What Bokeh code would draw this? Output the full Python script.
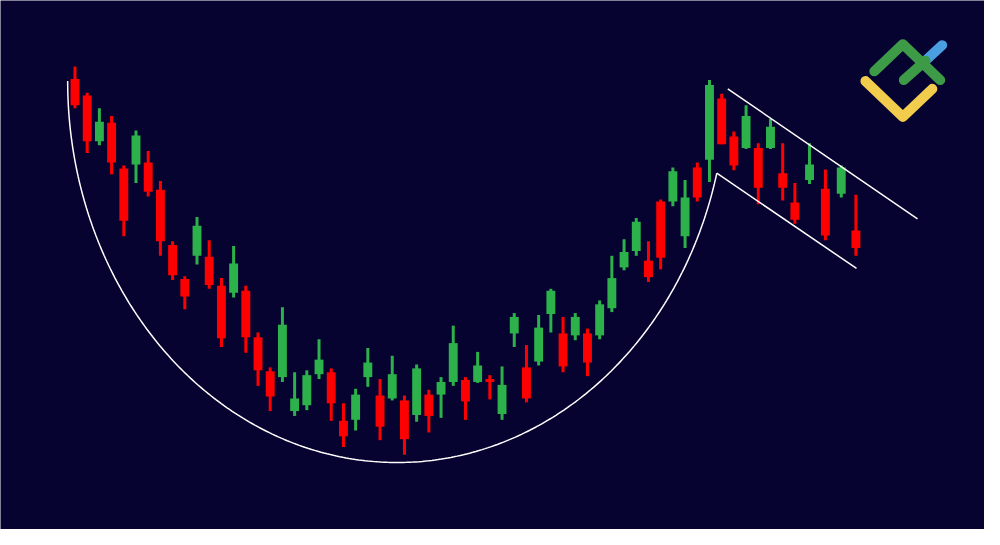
import numpy as np
from bokeh.plotting import figure
from bokeh.models import ColumnDataSource, Range1d
from bokeh.embed import file_html
from bokeh.resources import INLINE

# ---- candle data (bar position, OHLC in arbitrary price units) ----
pos = list(range(1, 61)) + [61.2, 62.5, 63.8, 65.0]
open_ = [464, 447, 400, 419, 372, 376, 378, 350, 293, 258,
         282, 281, 251, 244, 246, 198, 163, 157, 122, 128,
         160, 162, 112, 113, 157, 138, 135, 133, 118, 139,
         139, 152, 154, 152, 155, 119, 202, 167, 173, 222,
         202, 200, 202, 200, 228, 270, 287, 277, 338, 338,
         302, 373, 381, 444, 405, 393, 393, 393, 367, 337,
         360, 351, 346, 308]
close = [437, 400, 420, 378, 318, 406, 348, 297, 262, 240,
         313, 252, 197, 274, 198, 164, 137, 211, 135, 159,
         175, 130, 96, 139, 172, 106, 160, 93, 166, 117,
         152, 192, 132, 169, 152, 149, 219, 135, 208, 246,
         168, 219, 172, 232, 259, 286, 317, 260, 280, 369,
         342, 342, 458, 397, 375, 426, 352, 415, 352, 319,
         376, 303, 373, 290]
high = [477, 450, 434, 426, 375, 411, 390, 359, 297, 261,
        322, 298, 259, 292, 251, 203, 167, 229, 162, 164,
        196, 166, 130, 145, 187, 155, 179, 138, 170, 144,
        157, 210, 157, 183, 159, 168, 223, 190, 221, 248,
        219, 223, 207, 236, 282, 299, 321, 297, 340, 373,
        360, 378, 463, 449, 410, 437, 398, 423, 398, 357,
        398, 371, 375, 345]
low = [434, 388, 396, 366, 302, 357, 343, 282, 257, 227,
       273, 248, 188, 239, 182, 148, 122, 152, 117, 123,
       155, 112, 85, 102, 147, 92, 133, 77, 111, 100,
       115, 148, 113, 151, 134, 113, 188, 131, 169, 203,
       162, 195, 158, 196, 224, 267, 282, 255, 268, 333,
       290, 338, 358, 397, 370, 392, 335, 392, 339, 315,
       356, 298, 342, 282]

# ---- pattern annotation parameters (data units) ----
cup_center_x = 27.4
cup_half_width = 27.0
cup_rim = 462
cup_depth = 393
cup_end_angle = 0.244
channel_upper = ([54.5, 70.05], [454, 320])
channel_lower_end = (65.05, 269)

BG = "#060330"
RED = "#FF0000"
GREEN = "#2DB24B"

X0, X1 = -5.105, 75.54

p = figure(width=984, height=529, output_backend="svg", toolbar_location=None,
           x_range=Range1d(X0, X1), y_range=Range1d(0, 545),
           background_fill_color=BG, border_fill_color=BG,
           min_border=0, outline_line_color=None)
p.axis.visible = False
p.grid.visible = False

colors = [GREEN if c >= o else RED for o, c in zip(open_, close)]
src = ColumnDataSource(dict(
    x=pos, top=[max(o, c) for o, c in zip(open_, close)],
    bottom=[min(o, c) for o, c in zip(open_, close)],
    high=high, low=low, color=colors))

p.segment(x0="x", y0="high", x1="x", y1="low", line_color="color",
          line_width=3, source=src)
p.vbar(x="x", width=0.73, top="top", bottom="bottom", fill_color="color",
       line_color=None, source=src)

# cup curve
t = np.linspace(np.pi, cup_end_angle, 300)
cx = cup_center_x + cup_half_width * np.cos(t)
cy = cup_rim - cup_depth * np.sin(t)
p.line(cx, cy, line_color="white", line_width=1.5)

# handle channel
p.line(channel_upper[0], channel_upper[1], line_color="white", line_width=1.5)
p.line([cx[-1], channel_lower_end[0]], [cy[-1], channel_lower_end[1]],
       line_color="white", line_width=1.5)

# logo
def px(x):
    return 1 + (x - 75.7) / 12.4

def py(y):
    return 545 - y

LG = "#3D9B47"
p.line([px(940), px(957)], [py(62), py(46)], line_color="#4A9FE0", line_width=10,
       line_cap="round")
p.line([px(918), px(940)], [py(82), py(62)], line_color=LG, line_width=10,
       line_cap="round")
p.line([px(888), px(917), px(955)], [py(73), py(45), py(82)], line_color=LG,
       line_width=10, line_cap="round", line_join="round")
p.line([px(879), px(917), px(947)], [py(83), py(120), py(91)], line_color="#F2CC4D",
       line_width=10, line_cap="round", line_join="round")

open("out.html", "w").write(file_html(p, INLINE))
